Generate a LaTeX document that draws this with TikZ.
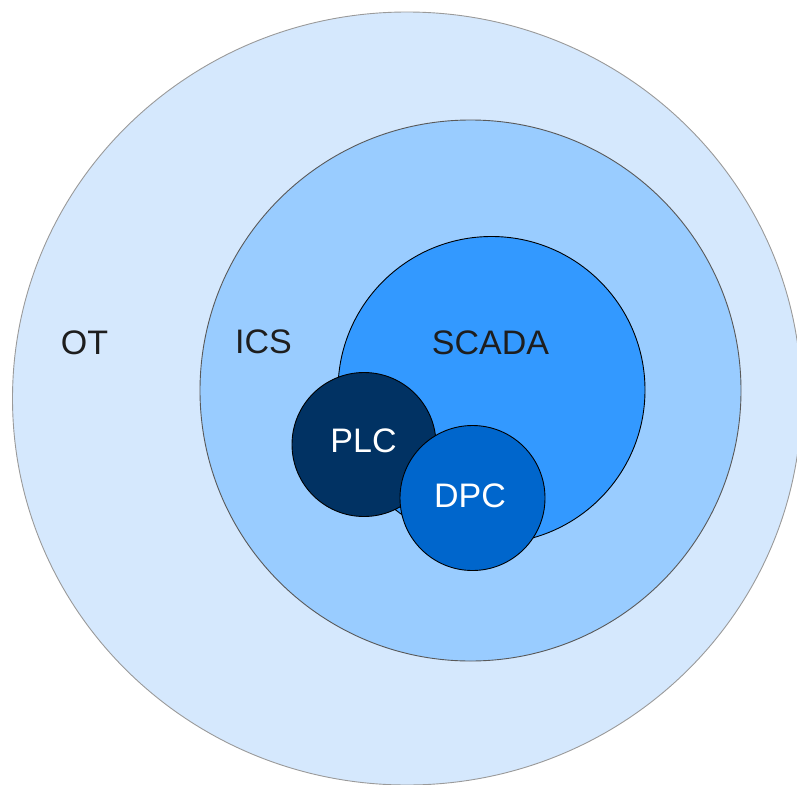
\documentclass[tikz,border=0pt]{standalone}
\usepackage{fontspec}
\setmainfont{Liberation Sans}
\definecolor{otfill}{HTML}{D5E8FD}
\definecolor{icsfill}{HTML}{99CCFF}
\definecolor{scadafill}{HTML}{3399FF}
\definecolor{plcfill}{HTML}{013263}
\definecolor{dpcfill}{HTML}{0066CC}
\definecolor{ringgray}{HTML}{9A9A9A}
\definecolor{labeltext}{HTML}{1E1E1E}
\tikzset{
  ring/.style={draw=black, line width=0.9pt},
  lbl/.style={font=\fontsize{34}{40}\selectfont, text=labeltext, inner sep=0pt},
  wlbl/.style={lbl, text=white},
}
\begin{document}
\begin{tikzpicture}[x=1pt,y=-1pt]
  \useasboundingbox (0,0) rectangle (797,784);
  \begin{scope}
    \clip (0,0) rectangle (797,784);
    % nested domains
    \draw[ring, draw=ringgray, fill=otfill] (407,398.5) ellipse [x radius=394.5, y radius=386.5];
    \draw[ring, draw=black!65, fill=icsfill] (470.5,390.5) circle [radius=270.5];
    \draw[ring, fill=scadafill] (491.5,390) circle [radius=153.5];
    \draw[ring, fill=plcfill] (364,444.5) circle [radius=72];
    \draw[ring, fill=dpcfill] (472.5,498) circle [radius=72.5];
  \end{scope}
  % labels
  \node[lbl] (ot) at (84.5,342.5) {OT};
  \node[lbl] (ics) at (263.5,341.5) {ICS};
  \node[lbl] (scada) at (490.5,342.5) {SCADA};
  \node[wlbl] (plc) at (363.5,441) {PLC};
  \node[wlbl] (dpc) at (470,496) {DPC};
\end{tikzpicture}
\end{document}
